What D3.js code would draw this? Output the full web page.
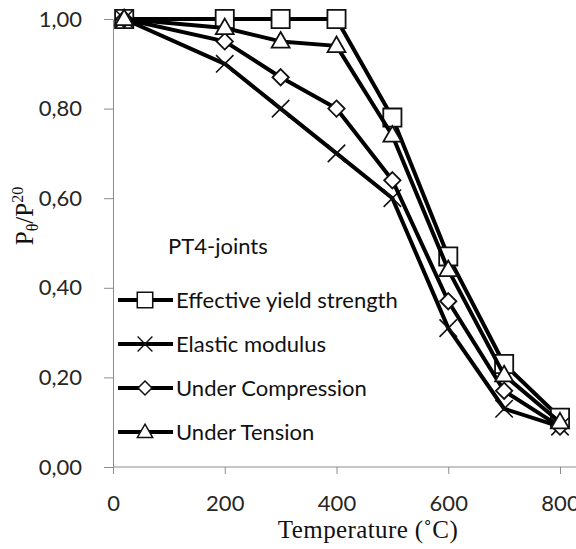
<!DOCTYPE html>
<html>
<head>
<meta charset="utf-8">
<script src="https://cdn.jsdelivr.net/npm/d3@7"></script>
<style>
  body { margin: 0; background: #fff; }
  svg { display: block; }
</style>
</head>
<body>
<svg id="chart"></svg>
<script>
const TEMPS = [20, 200, 300, 400, 500, 600, 700, 800];
const YIELD = [1.00, 1.00, 1.00, 1.00, 0.78, 0.47, 0.23, 0.11];
const ELASTIC = [1.00, 0.90, 0.80, 0.70, 0.60, 0.31, 0.13, 0.09];
const COMPRESSION = [1.00, 0.95, 0.87, 0.80, 0.64, 0.37, 0.17, 0.09];
const TENSION = [1.00, 0.98, 0.95, 0.94, 0.74, 0.44, 0.205, 0.10];
const SERIES_NAMES = ['Effective yield strength', 'Elastic modulus', 'Under Compression', 'Under Tension'];
const SYMBOLS = ['square', 'cross', 'diamond', 'triangle'];
const X_TICKS = [0, 200, 400, 600, 800];
const Y_TICKS = [0, 0.2, 0.4, 0.6, 0.8, 1.0];

const width = 576, height = 549;
const margin = {top: 19, right: 16, bottom: 82, left: 113};

const svg = d3.select('#chart').attr('width', width).attr('height', height);

const x = d3.scaleLinear([0, 800], [margin.left, width - margin.right]);
const y = d3.scaleLinear([0, 1], [height - margin.bottom, margin.top]);

const fmt = d => d3.format('.2f')(d).replace('.', ',');
const sans = 'Lato, "Open Sans", sans-serif';
const serif = '"Liberation Serif", "Times New Roman", serif';

// axes
const xAxis = svg.append('g')
  .attr('transform', `translate(0,${y(0)})`)
  .call(d3.axisBottom(x).tickValues(X_TICKS).tickSize(7).tickSizeOuter(0).tickPadding(21));
xAxis.select('.domain').attr('stroke', '#8c8c8c').attr('d', `M${x(0)},0H${width}`);

const yAxis = svg.append('g')
  .attr('transform', `translate(${x(0)},0)`)
  .call(d3.axisLeft(y).tickValues(Y_TICKS).tickFormat(fmt).tickSize(9).tickSizeOuter(0).tickPadding(22));
yAxis.select('.domain').attr('stroke', '#8c8c8c');

svg.selectAll('.tick line').attr('stroke', '#8c8c8c');
svg.selectAll('.tick text')
  .attr('fill', '#262626')
  .style('font-family', sans)
  .style('font-size', '22px');

// axis titles
svg.append('text')
  .attr('x', 368).attr('y', 538)
  .attr('text-anchor', 'middle')
  .style('font-family', serif)
  .style('font-size', '25px')
  .style('letter-spacing', '0.4px')
  .attr('fill', '#111')
  .text('Temperature (\u02DAC)');

const yt = svg.append('text')
  .attr('transform', 'translate(33,216) rotate(-90)')
  .attr('text-anchor', 'middle')
  .style('font-family', serif)
  .style('font-size', '25px')
  .attr('fill', '#111');
yt.append('tspan').text('P');
yt.append('tspan').attr('dy', 5).style('font-size', '16px').text('\u03B8');
yt.append('tspan').attr('dy', -5).text('/P');
yt.append('tspan').attr('dy', -10).style('font-size', '16px').text('20');

// series
const seriesData = [YIELD, ELASTIC, COMPRESSION, TENSION].map((vals, i) => ({
  name: SERIES_NAMES[i],
  symbol: SYMBOLS[i],
  values: TEMPS.map((t, j) => [t, vals[j]])
}));

const line = d3.line().x(d => x(d[0])).y(d => y(d[1]));

function drawMarker(g, type) {
  if (type === 'square') {
    g.append('path').attr('d', d3.symbol(d3.symbolSquare, 330)())
      .attr('fill', '#fff').attr('stroke', '#111').attr('stroke-width', 1.8);
  } else if (type === 'cross') {
    g.append('path').attr('d', d3.symbol(d3.symbolTimes, 200)())
      .attr('fill', 'none').attr('stroke', '#111').attr('stroke-width', 1.6);
  } else if (type === 'diamond') {
    g.append('path').attr('d', d3.symbol(d3.symbolDiamond2, 170)())
      .attr('fill', '#fff').attr('stroke', '#111').attr('stroke-width', 1.8);
  } else {
    g.append('path').attr('d', d3.symbol(d3.symbolTriangle2, 230)())
      .attr('transform', 'translate(0,1)')
      .attr('fill', '#fff').attr('stroke', '#111').attr('stroke-width', 1.8);
  }
}

const series = svg.append('g').selectAll('g')
  .data(seriesData).enter()
  .append('g');

series.append('path')
  .attr('fill', 'none')
  .attr('stroke', '#000')
  .attr('stroke-width', 4)
  .attr('stroke-linejoin', 'round')
  .attr('d', d => line(d.values));

series.each(function(d) {
  d3.select(this).selectAll('.mk')
    .data(d.values).enter()
    .append('g')
    .attr('class', 'mk')
    .attr('transform', p => `translate(${x(p[0])},${y(p[1])})`)
    .each(function() { drawMarker(d3.select(this), d.symbol); });
});

// legend
svg.append('text')
  .attr('x', 168).attr('y', 254)
  .style('font-family', sans)
  .style('font-size', '22px')
  .attr('fill', '#111')
  .text('PT4-joints');

const legend = svg.append('g').selectAll('g')
  .data(seriesData).enter()
  .append('g')
  .attr('transform', (d, i) => `translate(118,${300 + i * 44})`);

legend.append('line')
  .attr('x1', 0).attr('x2', 55)
  .attr('stroke', '#000').attr('stroke-width', 4);

legend.each(function(d) {
  const g = d3.select(this).append('g').attr('transform', 'translate(27,0)');
  drawMarker(g, d.symbol);
  g.selectAll('path').attr('transform', d.symbol === 'triangle' ? 'translate(0,1) scale(0.85)' : 'scale(0.85)');
});

legend.append('text')
  .attr('x', 58).attr('y', 8)
  .style('font-family', sans)
  .style('font-size', '22px')
  .attr('fill', '#111')
  .text(d => d.name);
</script>
</body>
</html>
